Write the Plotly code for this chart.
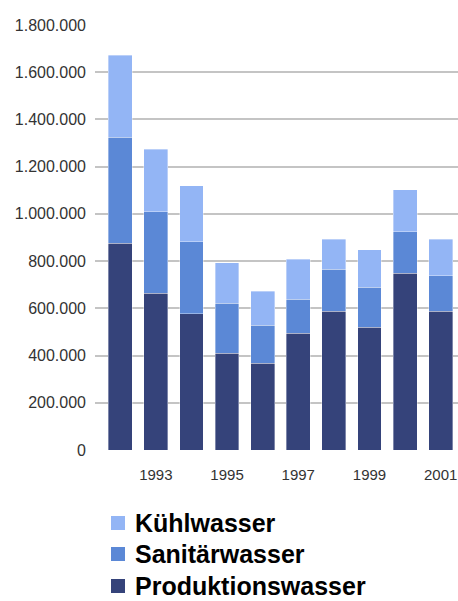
import plotly.graph_objects as go

years = ["1992", "1993", "1994", "1995", "1996", "1997", "1998", "1999", "2000", "2001"]
produktion = [875000, 663000, 578000, 409000, 367000, 494000, 587000, 519000, 748000, 587000]
sanitaer_top = [1324000, 1010000, 883000, 621000, 528000, 638000, 765000, 689000, 925000, 739000]
gesamt = [1671000, 1273000, 1120000, 793000, 672000, 807000, 892000, 849000, 1103000, 892000]

sanitaer = [s - p for s, p in zip(sanitaer_top, produktion)]
kuehl = [g - s for g, s in zip(gesamt, sanitaer_top)]

y_ticks = [0, 200000, 400000, 600000, 800000, 1000000, 1200000, 1400000, 1600000, 1800000]
y_labels = ["0", "200.000", "400.000", "600.000", "800.000", "1.000.000",
            "1.200.000", "1.400.000", "1.600.000", "1.800.000"]
x_ticks = ["1993", "1995", "1997", "1999", "2001"]

series_names = ["Produktionswasser", "Sanitärwasser", "Kühlwasser"]
series_colors = ["#35437a", "#5b88d6", "#93b5f5"]

fig = go.Figure()
for name, vals, col in zip(series_names, [produktion, sanitaer, kuehl], series_colors):
    fig.add_bar(x=years, y=vals, name=name, marker_color=col,
                marker_line_width=0.6, marker_line_color="rgba(255,255,255,0.6)")

# plot area: 95..458 px wide, 25..450 px tall
L, R, T, B = 95, 458, 25, 450


def px_x(p):
    return (p - L) / (R - L)


def px_y(p):
    return (B - p) / (B - T)


# hand-made legend (plotly's own legend spaces rows too far apart)
legend_rows = [("Kühlwasser", 2, 523), ("Sanitärwasser", 1, 554), ("Produktionswasser", 0, 586)]
for text, i, cy in legend_rows:
    fig.add_shape(type="rect", xref="paper", yref="paper",
                  x0=px_x(111), x1=px_x(125), y0=px_y(cy + 7), y1=px_y(cy - 7),
                  fillcolor=series_colors[i], line_width=0, layer="above")
    fig.add_annotation(xref="paper", yref="paper", x=px_x(133), y=px_y(cy),
                       xanchor="left", yanchor="middle", showarrow=False, text="<b>" + text + "</b>",
                       font=dict(size=25, color="black", family="Arial, Liberation Sans, sans-serif"))

fig.update_layout(
    barmode="stack",
    bargap=0.33,
    width=458, height=601,
    margin=dict(l=L, r=458 - R, t=T, b=601 - B),
    plot_bgcolor="white", paper_bgcolor="white",
    font=dict(family="Arial, Liberation Sans, sans-serif", size=15, color="#333333"),
    showlegend=False,
)
fig.update_xaxes(
    type="category", range=[-0.708, 9.486],
    tickvals=x_ticks, ticktext=x_ticks, showgrid=False,
    showline=False, ticks="", ticklabelstandoff=14,
)
fig.update_yaxes(
    range=[0, 1800000], tickvals=y_ticks, ticktext=y_labels,
    tickfont=dict(size=16),
    showgrid=True, gridcolor="#c4c4c4", gridwidth=1.5, zeroline=False,
    showline=False, ticks="", ticklabelstandoff=8,
)

fig.write_html("out.html", config={"displayModeBar": False},
               post_script="document.body.style.margin='0';document.body.style.overflow='hidden';")
